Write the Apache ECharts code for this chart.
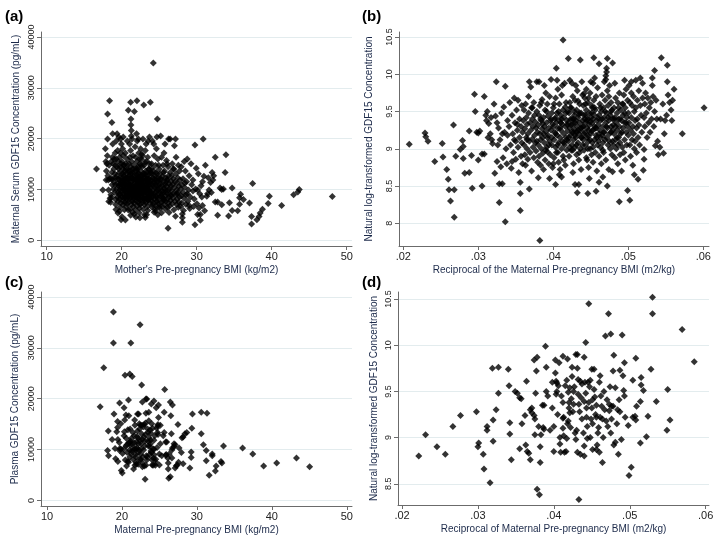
<!DOCTYPE html>
<html><head><meta charset="utf-8">
<script src="https://cdn.jsdelivr.net/npm/echarts@6/dist/echarts.min.js"></script>
<style>html,body{margin:0;padding:0;background:#fff}#c{width:718px;height:547px}</style>
</head><body><div id="c"></div>
<script>
// Cohort 1: [reciprocal of BMI (m2/kg), ln GDF15]
const cohort1 = [
[.0208,9.06],[.0229,9.21],[.0230,9.16],[.0233,9.10],[.0242,8.83],
[.0252,9.07],[.0253,8.89],[.0258,8.72],[.0260,8.59],[.0261,8.45],[.0263,8.30],[.0267,9.32],[.0268,8.45],[.0268,8.08],[.0270,8.90],[.0276,8.99],[.0279,9.11],[.0280,9.03],[.0280,8.87],[.0282,8.67],[.0288,8.68],[.0288,9.24],[.0291,8.91],[.0292,8.47],[.0295,9.73],[.0296,9.50],[.0298,9.22],
[.0300,9.21],[.0300,8.85],[.0302,9.24],[.0305,8.50],[.0305,8.93],[.0308,9.70],[.0308,8.93],[.0310,9.45],[.0311,9.38],[.0312,9.50],[.0313,9.15],[.0314,9.34],[.0316,9.20],[.0318,9.12],[.0319,9.07],[.0317,9.42],
[.0321,9.60],[.0322,8.67],[.0323,9.44],[.0324,9.90],[.0325,8.83],[.0325,9.35],[.0326,9.05],[.0327,9.28],[.0328,8.53],[.0328,8.28],[.0329,9.12],[.0330,8.76],[.0331,9.48],[.0332,8.53],[.0332,9.20],[.0333,8.88],[.0334,9.56],[.0335,9.22],[.0336,9.84],[.0336,8.02],[.0337,9.00],[.0338,8.80],[.0339,9.38],[.0339,9.18],
[.0341,9.30],[.0342,9.62],[.0343,9.05],[.0344,8.74],[.0345,9.45],[.0346,9.20],[.0347,8.95],[.0348,9.68],[.0349,9.35],[.0350,9.10],[.0350,8.86],[.0351,9.52],[.0352,9.25],[.0353,9.65],[.0353,9.02],[.0354,8.68],[.0355,9.40],[.0355,9.15],[.0356,8.40],[.0356,8.17],[.0356,8.55],[.0357,9.30],[.0357,8.90],[.0358,9.58],[.0358,9.08],[.0359,9.22],[.0359,8.80],[.0352,9.33],[.0348,9.12],[.0345,8.83],
[.0360,9.38],[.0361,9.05],[.0361,9.52],[.0362,8.92],[.0362,9.27],[.0363,9.60],[.0363,8.78],[.0364,9.15],[.0364,9.42],[.0365,9.00],[.0365,9.33],[.0366,8.86],[.0366,9.20],[.0367,9.70],[.0367,9.48],[.0368,9.90],[.0368,8.46],[.0368,9.10],[.0369,9.35],[.0369,8.95],[.0370,9.83],[.0370,9.25],[.0371,9.55],[.0371,8.70],[.0372,9.13],[.0372,9.40],[.0373,9.02],[.0373,9.30],[.0374,9.62],[.0374,8.88],[.0375,9.18],[.0375,9.45],[.0376,9.08],[.0376,9.36],[.0377,8.97],[.0377,9.28],[.0378,9.90],[.0378,9.50],[.0379,9.22],[.0379,8.82],
[.0380,8.61],[.0382,7.77],[.0381,9.90],[.0380,9.32],[.0380,9.05],[.0381,9.45],[.0381,8.90],[.0382,9.20],[.0382,9.58],[.0383,9.12],[.0383,8.78],[.0384,9.38],[.0384,9.00],[.0385,9.27],[.0385,9.66],[.0386,8.94],[.0386,9.15],[.0387,9.42],[.0387,8.72],[.0388,9.30],[.0388,9.08],[.0389,9.52],[.0389,8.85],[.0390,9.23],[.0390,9.75],[.0391,9.02],[.0391,9.35],[.0392,8.96],[.0392,9.60],[.0393,9.18],[.0393,9.44],[.0394,8.80],[.0394,9.28],[.0395,9.10],[.0395,9.70],[.0396,9.38],[.0396,8.92],[.0397,9.93],[.0397,9.25],[.0398,9.05],[.0398,9.48],[.0399,8.75],[.0399,9.33],[.0395,8.60],[.0388,9.85],[.0384,9.62],[.0392,9.15],[.0386,9.34],[.0390,8.98],[.0398,9.15],
[.0404,10.08],[.0413,10.46],[.0420,10.21],[.0403,8.52],[.0411,8.62],[.0400,9.30],[.0400,9.55],[.0401,9.12],[.0401,8.88],[.0402,9.40],[.0402,9.22],[.0403,9.68],[.0403,9.02],[.0404,9.35],[.0404,8.95],[.0405,9.48],[.0405,9.18],[.0406,9.80],[.0406,9.28],[.0407,8.82],[.0407,9.08],[.0408,9.60],[.0408,9.38],[.0409,9.15],[.0409,8.72],[.0410,9.45],[.0410,9.25],[.0411,9.00],[.0411,9.72],[.0412,9.33],[.0412,9.10],[.0413,9.52],[.0413,8.90],[.0414,9.20],[.0414,9.42],[.0415,9.88],[.0415,9.05],[.0416,9.30],[.0416,8.78],[.0417,9.62],[.0417,9.15],[.0418,9.38],[.0418,8.98],[.0419,9.50],[.0419,9.24],[.0400,8.80],[.0405,9.92],[.0408,8.65],[.0412,9.85],[.0416,9.56],[.0410,9.35],[.0403,9.42],[.0418,9.12],[.0406,9.05],[.0414,8.85],
[.0436,10.19],[.0432,8.41],[.0434,8.52],[.0429,8.52],[.0422,9.92],[.0425,9.88],[.0420,9.35],[.0420,9.10],[.0421,9.48],[.0421,8.90],[.0422,9.28],[.0422,9.62],[.0423,9.18],[.0423,9.40],[.0424,8.98],[.0424,9.55],[.0425,9.22],[.0425,9.05],[.0426,9.70],[.0426,9.33],[.0427,9.12],[.0427,8.80],[.0428,9.45],[.0428,9.26],[.0429,9.02],[.0429,9.65],[.0430,9.38],[.0430,9.15],[.0431,8.92],[.0431,9.52],[.0432,9.30],[.0432,9.78],[.0433,9.08],[.0433,9.42],[.0434,8.85],[.0434,9.20],[.0435,9.60],[.0435,9.35],[.0436,9.00],[.0436,9.25],[.0437,9.48],[.0437,8.72],[.0438,9.90],[.0438,9.15],[.0439,9.38],[.0439,9.05],[.0440,9.58],[.0426,8.68],[.0430,9.85],[.0428,9.50],[.0424,9.32],[.0433,9.64],[.0437,9.28],[.0422,9.02],[.0435,8.95],[.0439,9.72],[.0431,9.22],[.0427,9.40],[.0434,9.46],[.0429,9.18],
[.0446,8.40],[.0454,10.22],[.0457,8.43],[.0455,9.95],[.0453,9.88],[.0440,9.30],[.0440,9.12],[.0441,9.45],[.0441,8.98],[.0442,9.22],[.0442,9.68],[.0443,9.35],[.0443,9.05],[.0444,9.52],[.0444,8.88],[.0445,9.28],[.0445,9.15],[.0446,9.62],[.0446,9.40],[.0447,8.75],[.0447,9.10],[.0448,9.48],[.0448,9.32],[.0449,9.00],[.0449,9.75],[.0450,9.20],[.0450,9.42],[.0451,8.92],[.0451,9.58],[.0452,9.35],[.0452,9.08],[.0453,9.25],[.0453,8.82],[.0454,9.65],[.0454,9.46],[.0455,9.12],[.0455,9.30],[.0456,8.95],[.0456,9.52],[.0457,9.70],[.0457,9.18],[.0458,9.38],[.0458,8.70],[.0459,9.05],[.0459,9.82],[.0448,8.60],[.0444,9.80],[.0450,9.90],[.0442,9.40],[.0452,9.55],[.0446,9.18],[.0456,9.28],[.0449,9.36],[.0443,9.60],[.0458,9.15],[.0451,9.24],[.0445,8.85],[.0447,9.68],[.0453,9.02],[.0441,9.74],
[.0472,10.21],[.0479,10.15],[.0461,10.14],[.0471,10.08],[.0471,10.03],[.0470,9.98],[.0470,9.93],[.0461,8.55],[.0472,8.50],[.0479,8.69],[.0460,9.32],[.0460,9.10],[.0461,9.45],[.0461,8.90],[.0462,9.25],[.0462,9.60],[.0463,9.38],[.0463,9.02],[.0464,9.50],[.0464,8.80],[.0465,9.18],[.0465,9.72],[.0466,9.30],[.0466,9.08],[.0467,9.55],[.0467,8.95],[.0468,9.42],[.0468,9.22],[.0469,9.65],[.0469,9.12],[.0470,9.35],[.0470,8.85],[.0471,9.48],[.0471,9.15],[.0472,9.78],[.0472,9.28],[.0473,9.05],[.0473,9.58],[.0474,9.38],[.0474,8.72],[.0475,9.20],[.0475,9.85],[.0476,9.45],[.0476,9.00],[.0477,9.62],[.0477,9.30],[.0478,8.92],[.0478,9.52],[.0479,9.10],[.0479,9.40],[.0466,8.62],[.0468,9.90],[.0474,9.70],[.0463,9.55],[.0477,9.22],
[.0488,8.29],[.0499,8.44],[.0482,9.88],[.0495,9.92],[.0480,9.32],[.0480,9.05],[.0481,9.55],[.0481,9.20],[.0482,9.42],[.0482,8.88],[.0483,9.12],[.0483,9.68],[.0484,9.35],[.0484,9.00],[.0485,9.48],[.0485,9.25],[.0486,8.80],[.0486,9.62],[.0487,9.15],[.0487,9.40],[.0488,9.75],[.0488,9.30],[.0489,9.08],[.0489,8.92],[.0490,9.52],[.0490,9.20],[.0491,9.38],[.0491,8.70],[.0492,9.60],[.0492,9.02],[.0493,9.28],[.0493,9.45],[.0494,8.95],[.0494,9.72],[.0495,9.12],[.0495,9.35],[.0496,9.55],[.0496,8.85],[.0497,9.22],[.0497,9.80],[.0498,9.42],[.0498,9.05],[.0499,9.65],[.0499,9.30],
[.0502,8.31],[.0513,8.59],[.0500,9.48],[.0500,9.18],[.0501,9.85],[.0501,9.35],[.0502,9.05],[.0502,9.62],[.0503,9.25],[.0503,8.90],[.0504,9.90],[.0504,9.42],[.0505,9.12],[.0505,9.58],[.0506,9.30],[.0506,8.78],[.0507,9.70],[.0507,9.20],[.0508,9.50],[.0508,9.00],[.0509,9.38],[.0509,9.10],[.0510,9.92],[.0510,9.55],[.0511,9.28],[.0511,8.95],[.0512,9.65],[.0512,9.40],[.0513,9.15],[.0514,9.78],[.0514,9.32],[.0515,9.05],[.0516,9.58],[.0517,9.45],[.0518,9.22],[.0519,9.88],[.0519,9.68],[.0508,8.65],[.0504,9.75],[.0516,9.95],
[.0521,8.99],[.0521,8.86],[.0520,8.71],[.0532,9.95],[.0532,9.85],[.0535,10.05],[.0536,9.04],[.0539,9.10],[.0521,9.42],[.0522,9.60],[.0522,9.30],[.0523,9.75],[.0524,9.48],[.0525,9.15],[.0526,9.68],[.0527,9.35],[.0528,9.55],[.0529,9.22],[.0530,9.62],[.0531,9.40],[.0533,9.70],[.0534,9.30],[.0535,9.50],[.0537,9.65],[.0538,9.40],
[.0544,10.22],[.0552,10.12],[.0552,9.90],[.0547,8.94],[.0540,8.92],[.0557,9.52],[.0559,9.65],[.0543,9.40],[.0546,9.60],[.0549,9.38],[.0551,9.45],[.0553,9.72],[.0555,9.62],[.0542,9.02],[.0548,9.20],
[.0561,9.80],[.0572,9.20],[.0601,9.55],[.0558,9.38],
[.0365,9.12],[.0372,9.55],[.0378,9.10],[.0383,9.40],[.0387,9.20],[.0391,9.50],[.0394,9.05],[.0397,9.40],[.0401,9.60],[.0403,9.20],[.0407,9.50],[.0409,9.28],[.0411,9.40],[.0414,9.08],[.0417,9.48],[.0419,9.32],[.0421,9.15],[.0423,9.55],[.0425,9.40],[.0427,9.22],[.0429,9.35],[.0431,9.05],[.0433,9.25],[.0435,9.48],[.0437,9.15],[.0439,9.30],[.0441,9.20],[.0443,9.45],[.0445,9.38],[.0447,9.25],
[.0449,9.12],[.0451,9.48],[.0453,9.40],[.0455,9.55],[.0457,9.28],[.0459,9.42],[.0461,9.20],[.0463,9.15],[.0465,9.40],[.0467,9.22],[.0469,9.50],[.0471,9.30],[.0473,9.42],[.0475,9.10],[.0477,9.50],[.0479,9.25],[.0481,9.40],[.0483,9.30],[.0485,9.15],[.0487,9.55],[.0489,9.40],[.0491,9.22],[.0493,9.60],[.0495,9.48],[.0497,9.35],[.0406,8.95],[.0426,8.98],[.0446,9.00],[.0466,8.98],[.0486,9.05]
];
// Cohort 2: [reciprocal of BMI (m2/kg), ln GDF15]
const cohort2 = [
[.0222,8.80],[.0231,9.03],[.0246,8.90],[.0257,8.82],[.0267,9.12],[.0277,9.24],[.0298,9.28],[.0301,8.94],[.0300,8.90],[.0307,8.82],[.0308,8.66],[.0312,9.12],[.0312,9.08],[.0316,8.51],[.0319,9.75],[.0320,9.19],[.0320,8.96],[.0324,9.30],[.0327,9.76],[.0327,9.48],
[.0340,9.74],[.0341,9.56],[.0342,9.16],[.0342,9.04],[.0344,8.76],[.0349,9.50],[.0352,9.48],[.0355,9.43],[.0357,9.42],[.0355,8.88],[.0358,9.15],[.0362,9.24],[.0364,9.61],[.0363,8.92],[.0365,8.85],[.0367,8.83],[.0369,9.30],[.0371,9.27],[.0371,9.32],[.0369,8.76],
[.0374,9.84],[.0378,9.87],[.0374,9.24],[.0375,9.20],[.0375,9.03],[.0376,9.48],[.0377,9.72],[.0378,8.44],[.0381,8.38],[.0380,9.12],[.0382,8.73],[.0382,8.90],[.0383,9.03],[.0385,9.35],[.0387,9.35],[.0386,9.11],[.0387,9.09],[.0389,9.99],[.0390,9.50],[.0390,9.76],
[.0398,9.32],[.0400,9.12],[.0400,8.85],[.0402,9.70],[.0402,9.84],[.0403,9.61],[.0404,9.59],[.0406,9.56],[.0404,9.50],[.0403,9.47],[.0407,9.81],[.0408,9.00],[.0408,8.93],[.0409,8.84],[.0412,9.88],[.0412,9.38],[.0412,9.21],[.0413,9.22],[.0412,9.10],[.0414,8.84],
[.0415,9.56],[.0418,9.85],[.0419,9.49],[.0421,9.54],[.0417,8.99],[.0416,8.85],[.0418,9.15],[.0420,9.38],[.0420,9.32],[.0421,9.27],[.0422,9.11],[.0424,9.76],[.0424,9.66],[.0426,9.50],[.0426,9.36],[.0428,9.05],[.0429,8.98],[.0429,9.90],[.0431,9.75],[.0432,9.63],
[.0431,8.84],[.0431,9.90],[.0433,9.36],[.0435,8.82],[.0433,8.33],[.0435,9.61],[.0436,9.43],[.0437,9.20],[.0440,9.39],[.0440,8.91],[.0440,8.80],[.0440,9.87],[.0441,9.60],[.0442,10.03],[.0443,9.32],[.0444,9.12],[.0444,8.99],[.0445,9.60],[.0447,9.55],[.0446,10.45],
[.0448,9.00],[.0449,9.20],[.0450,9.32],[.0451,9.41],[.0451,8.87],[.0450,9.74],[.0453,9.74],[.0454,9.44],[.0455,9.25],[.0456,9.22],[.0456,8.87],[.0457,8.92],[.0459,9.11],[.0460,9.60],[.0460,8.84],[.0461,9.67],[.0461,9.22],[.0463,9.34],[.0464,8.73],[.0465,9.00],
[.0466,9.50],[.0468,10.10],[.0469,9.18],[.0470,9.41],[.0472,10.34],[.0473,9.29],[.0473,9.36],[.0475,10.12],[.0475,9.05],[.0476,9.34],[.0478,9.34],[.0478,9.72],[.0479,9.89],[.0479,8.92],[.0481,9.54],[.0481,8.95],[.0484,9.30],[.0485,8.82],[.0486,9.41],[.0487,9.73],
[.0489,8.98],[.0490,10.11],[.0491,9.67],[.0492,9.51],[.0493,9.81],[.0493,9.45],[.0494,9.22],[.0498,9.13],[.0499,8.59],[.0502,8.68],[.0504,9.22],[.0504,9.62],[.0507,9.23],[.0508,9.19],[.0508,9.86],[.0509,9.34],[.0514,8.94],[.0514,9.39],[.0515,9.65],[.0515,9.57],
[.0518,9.51],[.0522,9.01],[.0524,9.23],[.0528,9.74],[.0530,10.52],[.0530,10.34],[.0535,9.39],[.0549,9.08],[.0550,9.52],[.0553,9.19],[.0569,10.17],[.0585,9.82],
[.0405,9.25],[.0410,9.45],[.0413,9.02],[.0417,9.62],[.0419,9.18],[.0423,9.42],[.0425,9.28],[.0427,9.55],[.0430,9.08],[.0432,9.47],[.0434,9.28],[.0437,9.58],[.0439,9.05],[.0442,9.48],[.0443,9.22],[.0446,9.38],
[.0448,9.62],[.0451,9.15],[.0453,9.52],[.0456,9.35],[.0458,9.05],[.0462,9.45],[.0464,9.20],[.0467,9.30],[.0471,9.12],[.0474,9.55],[.0476,9.20],[.0483,9.15],[.0487,9.28],[.0395,9.08],[.0392,9.45],[.0398,9.60]
];
const bmiTicks = [10, 20, 30, 40, 50];
const gdfTicks = [0, 10000, 20000, 30000, 40000];
const recipTicks = [0.02, 0.03, 0.04, 0.05, 0.06];
const lnTicksB = [8, 8.5, 9, 9.5, 10, 10.5];
const lnTicksD = [8.5, 9, 9.5, 10, 10.5];

// Panels (a) and (c) show the same observations on the original scales
const panelA = cohort1.map(([r, l]) => [1 / r, Math.exp(l)]);
const panelC = cohort2.map(([r, l]) => [1 / r, Math.exp(l)]);

const FONT = '"Liberation Sans", Arial, sans-serif';
const axisCol = '#6b6b6b';
const titleCol = '#1c2a4a';
const recipFmt = v => v.toFixed(2).replace(/^0/, '');
const numFmt = v => String(v);

function xAx(g, min, max, ticks, fmt, name) {
  return {
    type: 'value', gridIndex: g, min, max,
    axisLine: {show: true, onZero: false, lineStyle: {color: axisCol, width: 1}},
    axisTick: {show: true, length: 4, customValues: ticks, lineStyle: {color: axisCol}},
    axisLabel: {customValues: ticks, formatter: fmt, fontSize: 11, color: '#222', margin: 5, fontFamily: FONT},
    splitLine: {show: false},
    name, nameLocation: 'middle', nameGap: 19,
    nameTextStyle: {fontSize: 10, color: titleCol, fontFamily: FONT}
  };
}
function yAx(g, min, max, ticks, fmt, name, gap) {
  return {
    type: 'value', gridIndex: g, min, max,
    axisLine: {show: true, onZero: false, lineStyle: {color: axisCol, width: 1}},
    axisTick: {show: true, length: 4, customValues: ticks, lineStyle: {color: axisCol}},
    axisLabel: {customValues: ticks, formatter: fmt, fontSize: 9, color: '#222', margin: 5, rotate: 90, fontFamily: FONT},
    splitLine: {show: true, lineStyle: {color: '#e3ecee', width: 1}},
    name, nameLocation: 'middle', nameGap: gap,
    nameTextStyle: {fontSize: 10, color: titleCol, fontFamily: FONT}
  };
}
function sc(i, data) {
  return {type: 'scatter', xAxisIndex: i, yAxisIndex: i, data, symbol: 'diamond', symbolSize: 7,
    itemStyle: {color: '#000'}, silent: true, animation: false};
}

const chart = echarts.init(document.getElementById('c'), null, {renderer: 'canvas'});
chart.setOption({
  backgroundColor: '#fff',
  animation: false,
  grid: [
    {left: 41, top: 32, width: 311, height: 214},
    {left: 399, top: 32, width: 310, height: 214},
    {left: 41, top: 292, width: 311, height: 214},
    {left: 398, top: 292, width: 311, height: 213}
  ],
  xAxis: [
    xAx(0, 9.24, 50.7, bmiTicks, numFmt, "Mother's Pre-pregnancy BMI (kg/m2)"),
    xAx(1, 0.01943, 0.06076, recipTicks, recipFmt, 'Reciprocal of the Maternal Pre-pregnancy BMI (m2/kg)'),
    xAx(2, 9.2, 50.7, bmiTicks, numFmt, 'Maternal Pre-pregnancy BMI (kg/m2)'),
    xAx(3, 0.01947, 0.06044, recipTicks, recipFmt, 'Reciprocal of Maternal Pre-pregnancy BMI (m2/kg)')
  ],
  yAxis: [
    yAx(0, -1120, 40985, gdfTicks, numFmt, 'Maternal Serum GDF15 Concentration (pg/mL)', 20),
    yAx(1, 7.695, 10.567, lnTicksB, numFmt, 'Natural log-transformed GDF15 Concentration', 25),
    yAx(2, -1100, 40983, gdfTicks, numFmt, 'Plasma GDF15 Concentration (pg/mL)', 21),
    yAx(3, 8.27, 10.576, lnTicksD, numFmt, 'Natural log-transformed GDF15 Concentration', 19)
  ],
  series: [sc(0, panelA), sc(1, cohort1), sc(2, panelC), sc(3, cohort2)],
  graphic: [
    {type: 'text', left: 5, top: 9, style: {text: '(a)', font: 'bold 15px ' + FONT, fill: '#000'}},
    {type: 'text', left: 362, top: 9, style: {text: '(b)', font: 'bold 15px ' + FONT, fill: '#000'}},
    {type: 'text', left: 5, top: 275, style: {text: '(c)', font: 'bold 15px ' + FONT, fill: '#000'}},
    {type: 'text', left: 362, top: 275, style: {text: '(d)', font: 'bold 15px ' + FONT, fill: '#000'}}
  ]
});
</script>
</body></html>
